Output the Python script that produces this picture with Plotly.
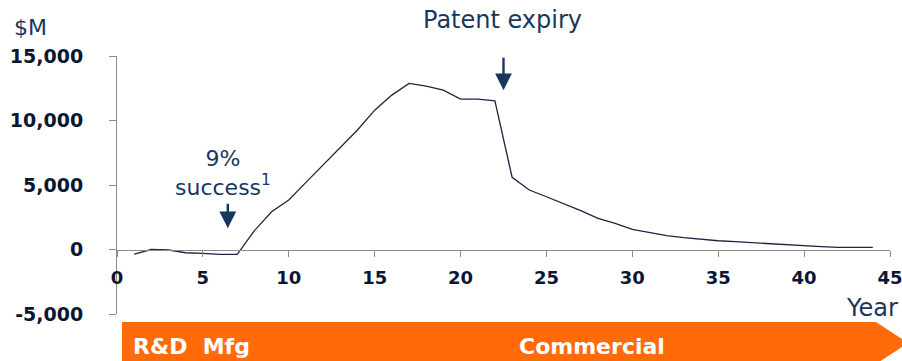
import plotly.graph_objects as go

# Cash-flow profile of a drug over its life cycle ($M per year)
years = list(range(1, 45))
cash_flow = [-350, 0, -40, -250, -300, -380, -380, 1460, 2930, 3840,
             5200, 6550, 7870, 9260, 10800, 11970, 12880, 12670, 12360, 11660,
             11660, 11530, 5600, 4610, 4090, 3580, 3010, 2420, 2030, 1560,
             1300, 1070, 915, 790, 680, 605, 530, 425, 325, 250,
             220, 170, 170, 170]

x_ticks = [0, 5, 10, 15, 20, 25, 30, 35, 40, 45]
y_ticks = [-5000, 0, 5000, 10000, 15000]
y_tick_labels = ["-5,000", "0", "5,000", "10,000", "15,000"]

# Event markers along the curve (year, value the arrow points at)
success_year, success_value = 6.45, 1650
expiry_year, expiry_value = 22.5, 12350

NAVY = "#17375e"
TICK_COLOR = "#0b1633"
AXIS_GRAY = "#8c8c8c"
ORANGE = "#ff6a0a"
FONT = "DejaVu Sans"

fig = go.Figure()
fig.add_trace(go.Scatter(
    x=years, y=cash_flow, mode="lines",
    line=dict(color="#1c2541", width=1.3),
    hoverinfo="skip", showlegend=False,
))

fig.update_layout(
    width=902, height=361, autosize=False,
    margin=dict(l=117, r=12, t=56, b=47, pad=0),
    paper_bgcolor="white", plot_bgcolor="white",
    xaxis=dict(
        range=[0, 45], tickmode="array", tickvals=x_ticks,
        anchor="free", position=0.25, automargin=False,
        showline=True, linecolor=AXIS_GRAY, linewidth=1,
        ticks="outside", ticklen=6, tickcolor=AXIS_GRAY,
        tickfont=dict(family=FONT, size=18, color=TICK_COLOR, weight="bold"),
        ticklabelstandoff=6, ticklabeloverflow="allow",
        showgrid=False, zeroline=False,
    ),
    yaxis=dict(
        range=[-5000, 15000], tickmode="array",
        tickvals=y_ticks, ticktext=y_tick_labels, automargin=False,
        showline=True, linecolor=AXIS_GRAY, linewidth=1,
        ticks="outside", ticklen=7, tickcolor=AXIS_GRAY,
        tickfont=dict(family=FONT, size=19, color=TICK_COLOR, weight="bold"),
        ticklabelstandoff=22, ticklabeloverflow="allow",
        showgrid=False, zeroline=False,
    ),
)

# Plot-area helpers: pixel offsets outside the axes expressed in paper units
L, R, T, B = 117, 890, 56, 314
def px(xp):
    return (xp - L) / (R - L)
def py(yp):
    return (B - yp) / (B - T)

# Orange phase banner with an arrow tip on the right
fig.add_shape(
    type="path", xref="paper", yref="paper",
    path=(f"M {px(122)} {py(322)} L {px(876)} {py(322)} L {px(908)} {py(343)} "
          f"L {px(876)} {py(364)} L {px(122)} {py(364)} Z"),
    fillcolor=ORANGE, line=dict(width=0), layer="above",
)

annotations = [
    dict(text="$M", x=px(12), y=py(27), xanchor="left", yanchor="middle",
         font=dict(family=FONT, size=22, color=NAVY)),
    dict(text="Year", x=px(844), y=py(308), xanchor="left", yanchor="middle",
         font=dict(family=FONT, size=24, color=NAVY)),
    dict(text="Patent expiry", x=px(502), y=py(20), xanchor="center", yanchor="middle",
         font=dict(family=FONT, size=24, color=NAVY)),
    dict(text="9%<br>success<sup>1</sup>", x=px(223), y=py(173), xanchor="center",
         yanchor="middle", align="center",
         font=dict(family=FONT, size=22, color=NAVY)),
    dict(text="R&D  Mfg", x=px(131), y=py(346), xanchor="left", yanchor="middle",
         font=dict(family=FONT, size=22, color="white", weight="bold")),
    dict(text="Commercial", x=px(592), y=py(346), xanchor="center", yanchor="middle",
         font=dict(family=FONT, size=22, color="white", weight="bold")),
]
for a in annotations:
    a.update(xref="paper", yref="paper", showarrow=False)
    fig.add_annotation(**a)

# Downward arrows marking the two events
for xv, yv, length in [(success_year, success_value, 26), (expiry_year, expiry_value, 34)]:
    fig.add_annotation(
        x=xv, y=yv, xref="x", yref="y", text="",
        showarrow=True, ax=0, ay=-length, axref="pixel", ayref="pixel",
        arrowhead=2, arrowsize=1.4, arrowwidth=2.4, arrowcolor=NAVY,
    )

fig.write_html("out.html")
